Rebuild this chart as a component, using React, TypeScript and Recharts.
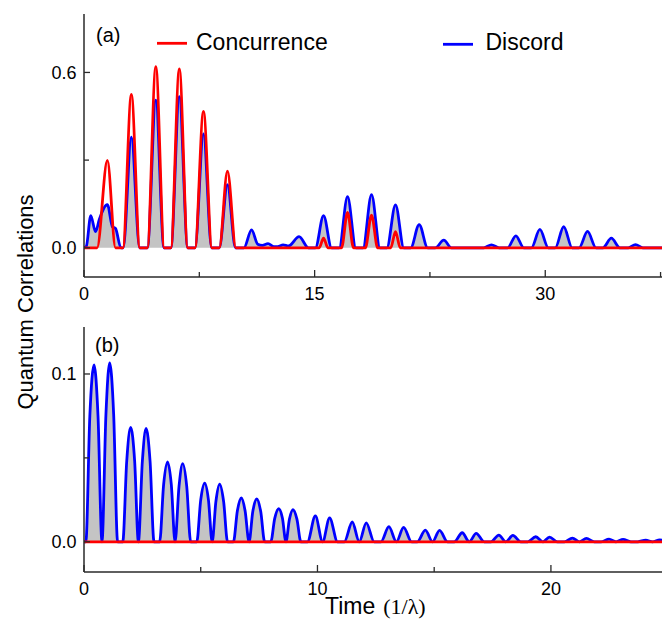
import { Area, ComposedChart, Line, XAxis, YAxis } from "recharts";

// panel (a): discord (blue) and concurrence (red), time in 1/lambda
const timeDiscordA = [
  0, 0.15, 0.44, 0.75, 1.0, 1.52, 1.85, 2.05, 2.4, 2.55, 3.08, 3.62, 4.12, 4.67, 5.2, 5.65,
  6.2, 6.75, 7.22, 7.77, 8.3, 8.8, 9.33, 9.85, 10.4, 10.9, 11.3, 11.6, 11.97, 12.35, 12.6,
  12.95, 13.3, 13.99, 14.6, 15.05, 15.58, 16.1, 16.6, 17.14, 17.68, 18.15, 18.7, 19.25,
  19.7, 20.26, 20.8, 21.25, 21.8, 22.35, 22.85, 23.4, 23.9, 26.0, 26.5, 27.0, 27.55, 28.09,
  28.6, 29.1, 29.65, 30.2, 30.65, 31.2, 31.75, 32.2, 32.75, 33.3, 33.75, 34.3, 34.85, 35.4,
  35.87, 36.35, 40,
];
const discordA = [
  0, 0.005, 0.11, 0.055, 0.098, 0.148, 0.072, 0.066, 0, 0, 0.379, 0, 0, 0.505, 0, 0,
  0.517, 0, 0, 0.39, 0, 0, 0.216, 0, 0, 0.061, 0.012, 0.008, 0.014, 0.004, 0.004,
  0.01, 0.006, 0.038, 0, 0, 0.11, 0, 0, 0.175, 0, 0, 0.182, 0,
  0, 0.147, 0, 0, 0.079, 0, 0, 0.026, 0, 0, 0.01, 0, 0, 0.041,
  0, 0, 0.063, 0, 0, 0.072, 0, 0, 0.056, 0, 0, 0.033, 0, 0,
  0.011, 0, 0,
];
const timeConcA = [
  0, 0.85, 1.52, 2.05, 2.53, 3.08, 3.63, 4.12, 4.67, 5.22, 5.65, 6.2, 6.75, 7.22, 7.77, 8.32,
  8.8, 9.33, 9.88, 15.3, 15.58, 15.86, 16.75, 17.14, 17.53, 18.3, 18.7, 19.1, 19.95, 20.26,
  20.57, 40,
];
const concurrenceA = [
  0, 0, 0.299, 0, 0, 0.525, 0, 0, 0.62, 0, 0, 0.612, 0, 0, 0.467, 0,
  0, 0.262, 0, 0, 0.033, 0, 0, 0.121, 0, 0, 0.112, 0, 0, 0.055,
  0, 0,
];

// panel (b)
const timeDiscordB = [
  0, 0.08, 0.25, 0.43, 0.6, 0.77, 0.94, 1.1, 1.27, 1.44,
  1.66, 1.83, 2.0, 2.17, 2.33, 2.5, 2.66, 2.83, 3.0,
  3.24, 3.41, 3.58, 3.74, 3.9, 4.07, 4.23, 4.4, 4.57,
  4.83, 5.0, 5.17, 5.33, 5.49, 5.65, 5.81, 5.98, 6.15,
  6.4, 6.57, 6.74, 6.9, 7.07, 7.23, 7.4, 7.57, 7.74,
  8.0, 8.17, 8.34, 8.5, 8.65, 8.8, 8.95, 9.12, 9.29,
  9.57, 9.91, 10.22, 10.52, 10.86, 11.15, 11.49, 11.79, 12.09, 12.43, 12.72, 13.06, 13.38,
  13.69, 14.03, 14.28, 14.62, 14.93, 15.23, 15.57, 15.86, 16.2, 16.5, 16.8, 17.14, 17.43,
  17.77, 18.07, 18.37, 18.71, 19.01, 19.35, 19.65, 19.94, 20.28, 20.58, 20.92, 21.22, 21.52,
  21.86, 22.15, 22.49, 22.79, 23.09, 23.43, 23.72, 24.06, 24.36, 24.66, 25.0, 26,
];
const discordB = [
  0, 0, 0.075, 0.1054, 0.075, 0, 0.076, 0.1066, 0.076, 0,
  0, 0.048, 0.0681, 0.048, 0, 0.048, 0.0675, 0.048, 0,
  0, 0.034, 0.0476, 0.034, 0, 0.033, 0.0466, 0.033, 0,
  0, 0.025, 0.0349, 0.025, 0, 0.024, 0.0343, 0.024, 0,
  0, 0.0185, 0.0261, 0.0185, 0, 0.018, 0.0255, 0.018, 0,
  0, 0.014, 0.0197, 0.014, 0, 0.0135, 0.0191, 0.0135, 0,
  0, 0.0154, 0, 0.0143, 0, 0, 0.0118, 0, 0.0113, 0, 0, 0.009, 0,
  0.0086, 0, 0, 0.007, 0, 0.0068, 0, 0, 0.0054, 0, 0.005, 0, 0,
  0.004, 0, 0.0038, 0, 0, 0.003, 0, 0.0028, 0, 0, 0.0022, 0, 0.002,
  0, 0, 0.0016, 0, 0.0014, 0, 0, 0.001, 0, 0.0012, 0, 0,
];
const timeConcB = [0, 26];
const concurrenceB = [0, 0];

const xTicksA = [0, 7.5, 15, 22.5, 30, 37.5];
const xLabelsA = ["0", "", "15", "", "30", ""];
const yTicksA = [0, 0.3, 0.6];
const yLabelsA = ["0.0", "", "0.6"];
const xTicksB = [0, 5, 10, 15, 20, 25];
const xLabelsB = ["0", "", "10", "", "20", ""];
const yTicksB = [0, 0.05, 0.1];
const yLabelsB = ["0.0", "", "0.1"];

const FONT = "'Liberation Sans', Arial, sans-serif";
const AXIS = "#2a2a2a";
const BLUE = "#0000ff";
const RED = "#ff0000";
const GRAY = "#c4c4c4";

const zip = (ts: number[], vs: number[]) => ts.map((t, i) => ({ t, v: vs[i] }));

// inward ticks, drawn by hand since recharts only draws them outward
function bottomTick(ticks: number[], labels: string[]) {
  return (p: any) => {
    const label = labels[ticks.indexOf(p.payload.value)] || "";
    return (
      <g>
        <line x1={p.x} x2={p.x} y1={p.y} y2={p.y - (label ? 7 : 5)} stroke={AXIS} strokeWidth={1.3} />
        {label && (
          <text x={p.x} y={p.y + 22.5} textAnchor="middle" fontSize={18} fontFamily={FONT} fill="#000">
            {label}
          </text>
        )}
      </g>
    );
  };
}

function topTick(ticks: number[], labels: string[]) {
  return (p: any) => {
    const label = labels[ticks.indexOf(p.payload.value)] || "";
    return <line x1={p.x} x2={p.x} y1={p.y} y2={p.y + (label ? 6 : 4)} stroke={AXIS} strokeWidth={1.3} />;
  };
}

function leftTick(ticks: number[], labels: string[]) {
  return (p: any) => {
    const label = labels[ticks.indexOf(p.payload.value)] || "";
    return (
      <g>
        <line x1={p.x} x2={p.x + (label ? 6 : 5)} y1={p.y} y2={p.y} stroke={AXIS} strokeWidth={1.3} />
        {label && (
          <text x={p.x - 7.5} y={p.y} dy="0.36em" textAnchor="end" fontSize={18} fontFamily={FONT} fill="#000">
            {label}
          </text>
        )}
      </g>
    );
  };
}

type PanelProps = {
  top: number;
  width: number;
  height: number;
  marginTop: number;
  xMax: number;
  yDomain: [number, number];
  xTicks: number[];
  xLabels: string[];
  yTicks: number[];
  yLabels: string[];
  discord: { t: number; v: number }[];
  concurrence: { t: number; v: number }[];
};

function Panel(p: PanelProps) {
  const axisLine = { stroke: AXIS, strokeWidth: 1.5 };
  return (
    <div style={{ position: "absolute", left: 0, top: p.top }}>
      <ComposedChart width={p.width} height={p.height} margin={{ top: p.marginTop, right: 0, bottom: 0, left: 0 }}>
        <XAxis
          xAxisId="bottom"
          dataKey="t"
          type="number"
          domain={[0, p.xMax]}
          allowDataOverflow
          ticks={p.xTicks}
          interval={0}
          height={40}
          tickSize={0}
          tickMargin={0}
          tickLine={false}
          axisLine={axisLine}
          tick={bottomTick(p.xTicks, p.xLabels)}
        />
        <XAxis
          xAxisId="top"
          orientation="top"
          dataKey="t"
          type="number"
          domain={[0, p.xMax]}
          allowDataOverflow
          ticks={p.xTicks}
          interval={0}
          height={0}
          tickSize={0}
          tickMargin={0}
          tickLine={false}
          axisLine={axisLine}
          tick={topTick(p.xTicks, p.xLabels)}
        />
        <YAxis
          type="number"
          domain={p.yDomain}
          allowDataOverflow
          ticks={p.yTicks}
          interval={0}
          width={84}
          tickSize={0}
          tickMargin={0}
          tickLine={false}
          axisLine={axisLine}
          tick={leftTick(p.yTicks, p.yLabels)}
        />
        <Area
          xAxisId="bottom"
          data={p.discord}
          dataKey="v"
          type="monotone"
          baseValue={0}
          fill={GRAY}
          fillOpacity={1}
          stroke="none"
          isAnimationActive={false}
        />
        <Line
          xAxisId="bottom"
          data={p.discord}
          dataKey="v"
          type="monotone"
          stroke={BLUE}
          strokeWidth={2.8}
          dot={false}
          activeDot={false}
          isAnimationActive={false}
        />
        <Line
          xAxisId="bottom"
          data={p.concurrence}
          dataKey="v"
          type="monotone"
          stroke={RED}
          strokeWidth={2.8}
          dot={false}
          activeDot={false}
          isAnimationActive={false}
        />
      </ComposedChart>
    </div>
  );
}

export default function App() {
  return (
    <div style={{ position: "fixed", left: 0, top: 0, width: 662, height: 627, overflow: "hidden", background: "#fff" }}>
      <Panel
        top={0}
        width={699}
        height={317}
        marginTop={14}
        xMax={40}
        yDomain={[-0.1, 0.8]}
        xTicks={xTicksA}
        xLabels={xLabelsA}
        yTicks={yTicksA}
        yLabels={yLabelsA}
        discord={zip(timeDiscordA, discordA)}
        concurrence={zip(timeConcA, concurrenceA)}
      />
      <Panel
        top={300}
        width={691}
        height={312}
        marginTop={27}
        xMax={26}
        yDomain={[-0.018, 0.128]}
        xTicks={xTicksB}
        xLabels={xLabelsB}
        yTicks={yTicksB}
        yLabels={yLabelsB}
        discord={zip(timeDiscordB, discordB)}
        concurrence={zip(timeConcB, concurrenceB)}
      />
      <svg width={662} height={627} style={{ position: "absolute", left: 0, top: 0, pointerEvents: "none" }}>
        <g fontFamily={FONT} fill="#000">
          <text x={96} y={42} fontSize={20}>(a)</text>
          <text x={95} y={352} fontSize={20}>(b)</text>
          <line x1={157} x2={187} y1={43.3} y2={43.3} stroke={RED} strokeWidth={2.8} />
          <text x={196} y={49.5} fontSize={23}>Concurrence</text>
          <line x1={443} x2={473} y1={44.3} y2={44.3} stroke={BLUE} strokeWidth={2.8} />
          <text x={485.5} y={49.5} fontSize={23}>Discord</text>
          <text transform="translate(33.3, 302) rotate(-90)" textAnchor="middle" fontSize={22}>
            Quantum Correlations
          </text>
          <text x={325} y={614} fontSize={23}>
            Time
            <tspan dx={8} fontFamily="'Liberation Serif', 'Times New Roman', serif" fontSize={22}>
              (1/λ)
            </tspan>
          </text>
        </g>
      </svg>
    </div>
  );
}
